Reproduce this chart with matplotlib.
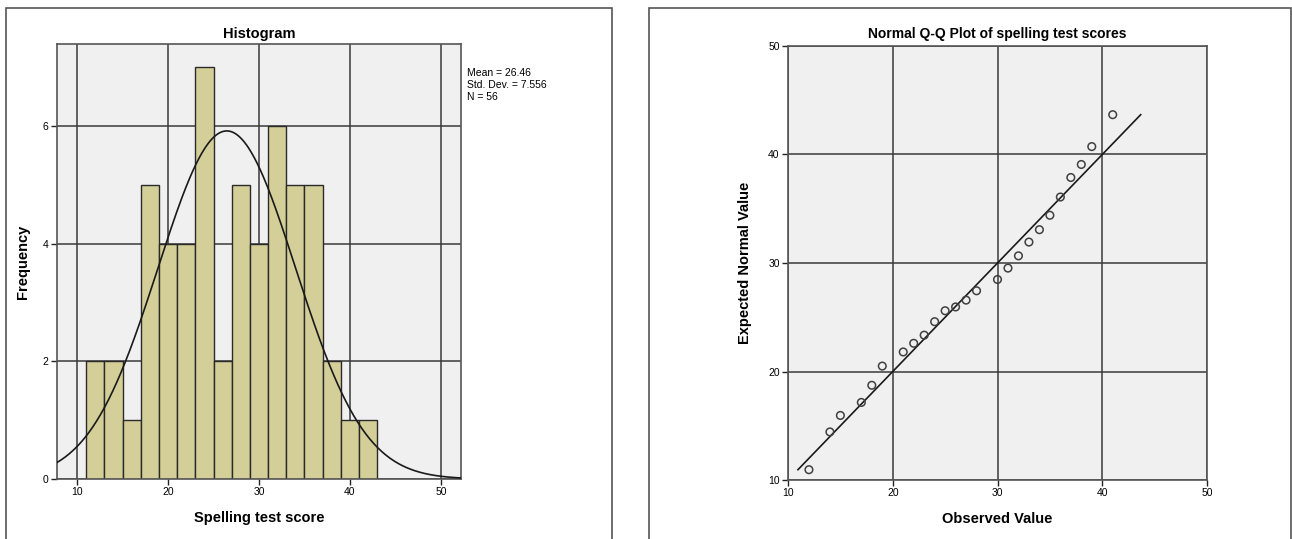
import numpy as np
import matplotlib.pyplot as plt
from matplotlib.patches import Rectangle

plt.rcParams['font.family'] = ['Liberation Sans', 'DejaVu Sans']

# histogram bins (width 2) and counts
bin_edges = [11, 13, 15, 17, 19, 21, 23, 25, 27, 29, 31, 33, 35, 37, 39, 41, 43]
counts = [2, 2, 1, 5, 4, 4, 7, 2, 5, 4, 6, 5, 5, 2, 1, 1]
mean_score = 26.46
sd_score = 7.556
n_scores = 56

# Q-Q plot points
observed = [12, 14, 15, 17, 18, 19, 21, 22, 23, 24, 25, 26, 27, 28,
            30, 31, 32, 33, 34, 35, 36, 37, 38, 39, 41]
expected = [10.95, 14.43, 15.95, 17.15, 18.73, 20.5, 21.8, 22.6, 23.35, 24.59,
            25.6, 25.95, 26.58, 27.44, 28.48, 29.53, 30.66, 31.93, 33.07, 34.4,
            36.08, 37.88, 39.08, 40.73, 43.67]

W, H = 1292, 539
fig = plt.figure(figsize=(W / 100, H / 100), dpi=100)

# panel frames
for x0, x1, col in [(6, 612, '#555555'), (649, 1291, '#555555')]:
    fig.patches.append(Rectangle((x0 / W, -0.05), (x1 - x0) / W, 1.05 - 8 / H,
                                 transform=fig.transFigure, fill=False,
                                 edgecolor=col, linewidth=1.2))

grid_col = '#3a3a3a'
bg = '#f0f0f0'

# ---- histogram ----
ax1 = fig.add_axes([57 / W, 1 - 479 / H, 404 / W, 435 / H])
ax1.set_facecolor(bg)
ax1.set_xlim(7.8, 52.2)
ax1.set_ylim(0, 7.39)
ax1.set_xticks([10, 20, 30, 40, 50])
ax1.set_yticks([0, 2, 4, 6])
ax1.grid(True, color=grid_col, linewidth=1.1)
ax1.set_axisbelow(True)
widths = np.diff(bin_edges)
ax1.bar(bin_edges[:-1], counts, width=widths, align='edge',
        color='#d4cf98', edgecolor='#2a2a2a', linewidth=1.0, zorder=2)
xs = np.linspace(7.8, 52.2, 400)
pdf = n_scores * 2 / (sd_score * np.sqrt(2 * np.pi)) * np.exp(-0.5 * ((xs - mean_score) / sd_score) ** 2)
ax1.plot(xs, pdf, color='#1a1a1a', linewidth=1.2, zorder=3)
ax1.set_title('Histogram', fontsize=10.5, fontweight='bold', pad=4)
ax1.set_xlabel('Spelling test score', fontsize=10.5, fontweight='bold', labelpad=10)
ax1.set_ylabel('Frequency', fontsize=10.5, fontweight='bold')
ax1.yaxis.set_label_coords(-0.067, 0.5)
fig.text(467 / W, 1 - 85 / H, 'Mean = 26.46\nStd. Dev. = 7.556\nN = 56',
         fontsize=7.5, va='center', ha='left', linespacing=1.3)

# ---- Q-Q plot ----
ax2 = fig.add_axes([788 / W, 1 - 480 / H, 419 / W, 434 / H])
ax2.set_facecolor(bg)
ax2.set_xlim(10, 50)
ax2.set_ylim(10, 50)
ax2.set_xticks([10, 20, 30, 40, 50])
ax2.set_yticks([10, 20, 30, 40, 50])
ax2.grid(True, color=grid_col, linewidth=1.1)
ax2.set_axisbelow(True)
ax2.plot([expected[0], expected[-1]], [expected[0], expected[-1]],
         color='#1a1a1a', linewidth=1.2, zorder=2)
ax2.scatter(observed, expected, s=30, facecolors='none', edgecolors='#404040',
            linewidths=1.1, zorder=3)
ax2.set_title('Normal Q-Q Plot of spelling test scores', fontsize=10,
              fontweight='bold', pad=6)
ax2.set_xlabel('Observed Value', fontsize=10.5, fontweight='bold', labelpad=10)
ax2.set_ylabel('Expected Normal Value', fontsize=10.5, fontweight='bold')
ax2.yaxis.set_label_coords(-0.086, 0.5)

for ax in (ax1, ax2):
    ax.tick_params(labelsize=7.5, length=4, width=1, color='#222222', pad=2)
    for s in ax.spines.values():
        s.set_color('#555555')
        s.set_linewidth(1.2)

fig.savefig('out.png', dpi=100)
